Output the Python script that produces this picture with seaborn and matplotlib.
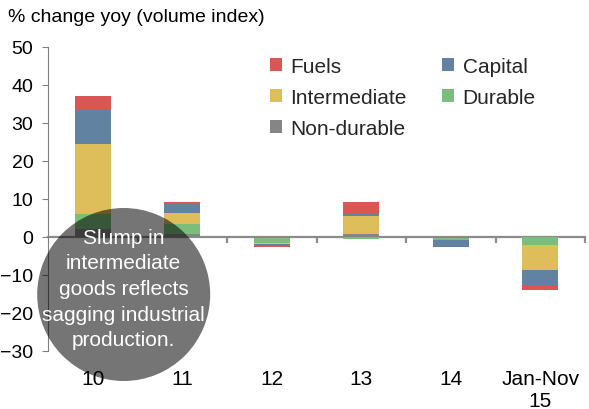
import numpy as np
import pandas as pd
import matplotlib
matplotlib.use("Agg")
import matplotlib.pyplot as plt
from matplotlib.patches import Patch, Circle
import seaborn as sns

# ---- data ----
categories = ["10", "11", "12", "13", "14", "Jan-Nov\n15"]
nondurable = [2.0, 0.8, -0.2, 0.8, -0.3, -0.1]
durable = [4.0, 2.6, -1.3, -0.4, -0.4, -2.1]
intermediate = [18.5, 2.8, -0.4, 4.6, -0.1, -6.5]
capital = [8.9, 2.4, -0.1, 0.6, -1.7, -3.8]
fuels = [3.7, 0.5, -0.6, 3.3, 0.0, -1.5]

series_names = ["Non-durable", "Durable", "Intermediate", "Capital", "Fuels"]
series_vals = [nondurable, durable, intermediate, capital, fuels]
colors = {"Fuels": "#D95654", "Capital": "#6282A1", "Intermediate": "#DDBE5A",
          "Durable": "#7BBE7B", "Non-durable": "#858585"}

sns.set_theme(style="white")
plt.rcParams["font.family"] = ["Liberation Sans", "DejaVu Sans"]

fig = plt.figure(figsize=(5.89, 4.10), dpi=100)
ax = fig.add_axes([48/589, 1-352/410, (585-48)/589, (352-48)/410])

vals = np.array(series_vals)
pos = np.clip(vals, 0, None).cumsum(axis=0)
neg = np.clip(vals, None, 0).cumsum(axis=0)

# draw from top layer down so lower layers cover the upper ones
for i in range(len(series_names) - 1, -1, -1):
    name = series_names[i]
    for cum in (pos, neg):
        df = pd.DataFrame({"cat": categories, "val": cum[i]})
        sns.barplot(data=df, x="cat", y="val", color=colors[name], width=0.4,
                    saturation=1, linewidth=0, ax=ax, order=categories)

ax.set_xlim(-0.5, 5.5)
ax.set_ylim(-30, 50)
ax.set_yticks(np.arange(-30, 51, 10))
ax.set_xlabel("")
ax.set_ylabel("")
for s in ["top", "right", "bottom"]:
    ax.spines[s].set_visible(False)
ax.spines["left"].set_color("#808080")
ax.spines["left"].set_linewidth(0.8)
ax.tick_params(axis="y", direction="out", length=4, width=0.8, color="#808080",
               left=True, pad=6.5, labelsize=14, labelcolor="black")
ax.tick_params(axis="x", length=0, pad=13, labelsize=15, labelcolor="black")

# zero line with boundary ticks
sec = ax.secondary_xaxis(30/80)
sec.set_xticks(np.arange(0.5, len(categories), 1.0))
sec.set_xticklabels([])
sec.spines["bottom"].set_color("#8C8C8C")
sec.spines["bottom"].set_linewidth(1.6)
sec.tick_params(axis="x", direction="out", length=4, width=1.6, color="#8C8C8C")

# legend
order = ["Fuels", "Intermediate", "Non-durable", "Capital", "Durable"]
handles = [Patch(facecolor=colors[n], edgecolor="none", label=n) for n in order]
fig.legend(handles=handles, ncol=2, frameon=False, loc="upper left",
           bbox_to_anchor=(269.5/589, 1-58/410), fontsize=15,
           handlelength=0.6, handleheight=0.6, handletextpad=0.4,
           columnspacing=1.68, labelspacing=0.58, borderpad=0, borderaxespad=0)

# title
fig.text(8/589, 1-18/410, "% change yoy (volume index)", fontsize=14,
         va="center", ha="left", color="black")

# annotation circle
circ = Circle((1.237, 4.10-2.955), 0.865, transform=fig.dpi_scale_trans,
              facecolor="black", alpha=0.54, edgecolor="none", zorder=10)
fig.patches.append(circ)
fig.text(1.237/5.89, 1-2.895/4.10,
         "Slump in\nintermediate\ngoods reflects\nsagging industrial\nproduction.",
         ha="center", va="center", color="white", fontsize=15, linespacing=1.45,
         zorder=11)

fig.savefig("out.png", dpi=100)
